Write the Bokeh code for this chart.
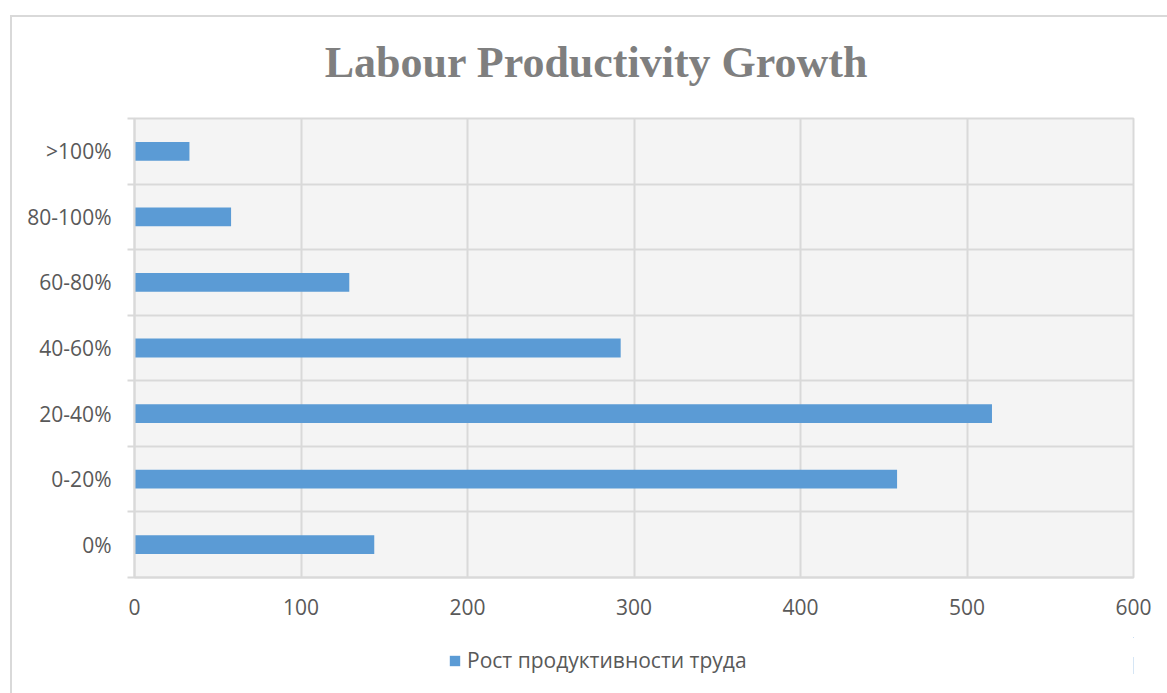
from bokeh.plotting import figure
from bokeh.models import Range1d, FixedTicker, Legend, LegendItem, ColumnDataSource, Label
from bokeh.layouts import column
from bokeh.embed import file_html
from bokeh.resources import INLINE

# ---- data ----
categories = ["0%", "0-20%", "20-40%", "40-60%", "60-80%", "80-100%", ">100%"]
values = [144, 458, 515, 292, 129, 58, 33]
x_ticks = [0, 100, 200, 300, 400, 500, 600]
title_text = "Labour Productivity Growth"
series_name = "Рост продуктивности труда"

BAR = "#5B9BD5"
GRID = "#d9d9d9"
LABEL = "#595959"
W = 1155

positions = [i + 0.5 for i in range(len(categories))]
src = ColumnDataSource(dict(y=positions, v=values, cat=categories))


def blank(h, xr=(0, 1)):
    f = figure(width=W, height=h, x_range=Range1d(*xr), y_range=Range1d(0, 1),
               x_axis_type=None, y_axis_type=None, output_backend="svg",
               toolbar_location=None, min_border=0)
    f.outline_line_color = None
    f.background_fill_color = "white"
    f.border_fill_color = "white"
    f.xgrid.visible = False
    f.ygrid.visible = False
    return f


# ---- header with title ----
header = blank(96)
header.add_layout(Label(x=462, y=51, x_units="screen", y_units="screen",
                        text=title_text, text_align="center", text_baseline="alphabetic",
                        text_font="Liberation Serif", text_font_style="bold",
                        text_font_size="44px", text_color="#7f7f7f"))

# ---- main chart ----
p = figure(
    width=W, height=524,
    frame_width=999, frame_height=459,
    min_border_left=122, min_border_right=34, min_border_top=5, min_border_bottom=60,
    x_range=Range1d(0, 600), y_range=Range1d(0, len(categories)),
    output_backend="svg", toolbar_location=None,
)
p.background_fill_color = "#f4f4f4"
p.border_fill_color = "white"
p.outline_line_color = GRID
p.outline_line_width = 2

p.hbar(y="y", right="v", left=0, height=0.286, source=src,
       fill_color=BAR, line_color=None)

p.xaxis.ticker = FixedTicker(ticks=x_ticks)
p.xaxis.major_tick_line_color = None
p.xaxis.minor_tick_line_color = None
p.xaxis.major_tick_out = 0
p.xaxis.major_tick_in = 0
p.xaxis.axis_line_color = GRID
p.xaxis.axis_line_width = 2
p.xaxis.major_label_text_font = "Open Sans"
p.xaxis.major_label_text_font_size = "21px"
p.xaxis.major_label_text_color = LABEL
p.xaxis.major_label_standoff = 21

p.yaxis.ticker = FixedTicker(ticks=positions, minor_ticks=list(range(len(categories) + 1)))
p.yaxis.major_label_overrides = {pos: c for pos, c in zip(positions, categories)}
p.yaxis.major_tick_line_color = None
p.yaxis.major_tick_out = 0
p.yaxis.major_tick_in = 0
p.yaxis.minor_tick_line_color = GRID
p.yaxis.minor_tick_line_width = 2
p.yaxis.minor_tick_out = 7
p.yaxis.minor_tick_in = 0
p.yaxis.axis_line_color = GRID
p.yaxis.axis_line_width = 2
p.yaxis.major_label_text_font = "Open Sans"
p.yaxis.major_label_text_font_size = "21px"
p.yaxis.major_label_text_color = LABEL
p.yaxis.major_label_standoff = 16

p.xgrid.ticker = FixedTicker(ticks=x_ticks)
p.ygrid.ticker = FixedTicker(ticks=list(range(len(categories) + 1)))
p.xgrid.grid_line_color = GRID
p.ygrid.grid_line_color = GRID
p.xgrid.grid_line_width = 2
p.ygrid.grid_line_width = 2

# ---- footer with legend (series renderer kept outside its visible range) ----
footer = blank(56, xr=(-2, -1))
lr = footer.hbar(y="y", right="v", left=0, height=0.3, source=src,
                 fill_color=BAR, line_color=None)
legend = Legend(items=[LegendItem(label=series_name, renderers=[lr])],
                orientation="horizontal", location=(314, 19))
legend.glyph_width = 13
legend.glyph_height = 13
legend.label_text_font = "Open Sans"
legend.label_text_font_size = "21px"
legend.label_text_color = LABEL
legend.label_standoff = 6
legend.padding = 5
legend.margin = 0
legend.border_line_color = None
legend.background_fill_alpha = 0
footer.add_layout(legend, "center")

layout = column(header, p, footer, spacing=0, margin=(15, 0, 0, 10),
                styles={"border-top": "2px solid #d9d9d9", "border-left": "2px solid #d9d9d9"})

open("out.html", "w").write(file_html(layout, INLINE))
